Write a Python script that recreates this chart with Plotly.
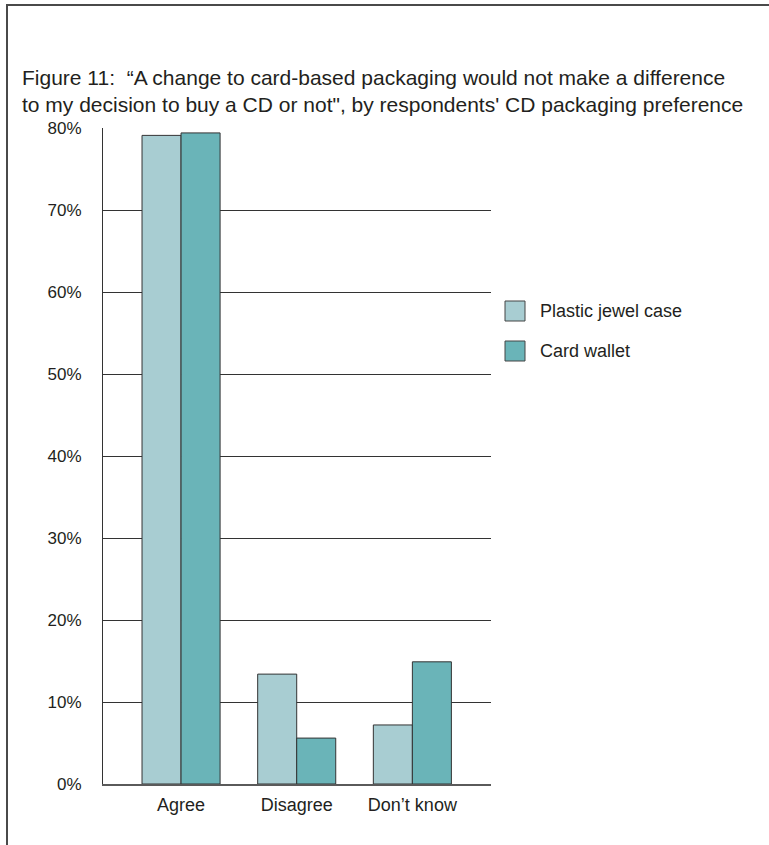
import plotly.graph_objects as go

# Survey responses by preferred CD packaging
categories = ["Agree", "Disagree", "Don\u2019t know"]
series_names = ["Plastic jewel case", "Card wallet"]
jewel_case = [79.1, 13.4, 7.2]
card_wallet = [79.4, 5.6, 14.9]
y_ticks = [0, 10, 20, 30, 40, 50, 60, 70, 80]
y_tick_labels = [f"{v}%" for v in y_ticks]

title_text = ("Figure 11:  \u201cA change to card-based packaging would not make a difference<br>"
              "to my decision to buy a CD or not\", by respondents' CD packaging preference")

W, H = 769, 845
M_L, M_R, M_T, M_B = 103, 278, 128, 61
PW, PH = W - M_L - M_R, H - M_T - M_B

colors = ["#a8cdd2", "#6ab4b8"]
FONT = "Liberation Sans, Arial, sans-serif"
TXT = "#231f20"


def px_x(px):
    return (px - M_L) / PW


def px_y(py):
    return (H - M_B - py) / PH


fig = go.Figure()
for name, vals, col in zip(series_names, [jewel_case, card_wallet], colors):
    fig.add_trace(go.Bar(
        x=categories, y=vals, name=name,
        marker=dict(color=col, line=dict(color="#333333", width=1)),
        showlegend=False,
    ))

shapes = [
    # outer frame: left and top rules
    dict(type="line", xref="paper", yref="paper",
         x0=px_x(7), x1=px_x(7), y0=px_y(5), y1=px_y(H + 2),
         line=dict(color="#4a4a4a", width=2)),
    dict(type="line", xref="paper", yref="paper",
         x0=px_x(6), x1=px_x(W + 2), y0=px_y(5), y1=px_y(5),
         line=dict(color="#4a4a4a", width=2)),
]
annotations = [
    dict(text=title_text, xref="paper", yref="paper",
         x=px_x(20), y=px_y(90.5), xanchor="left", yanchor="middle",
         align="left", showarrow=False,
         font=dict(family=FONT, size=21, color=TXT)),
]

# legend swatches and labels
for i, (name, col) in enumerate(zip(series_names, colors)):
    top = 301 + 40 * i
    shapes.append(dict(type="rect", xref="paper", yref="paper",
                       x0=px_x(505), x1=px_x(525), y0=px_y(top), y1=px_y(top + 20),
                       fillcolor=col, line=dict(color="#444444", width=1)))
    annotations.append(dict(text=name, xref="paper", yref="paper",
                            x=px_x(538), y=px_y(top + 10), xanchor="left", yanchor="middle",
                            showarrow=False,
                            font=dict(family=FONT, size=18, color=TXT)))

fig.update_layout(
    width=W, height=H,
    margin=dict(l=M_L, r=M_R, t=M_T, b=M_B),
    paper_bgcolor="white", plot_bgcolor="white",
    barmode="group", bargap=0.325, bargroupgap=0,
    font=dict(family=FONT, size=18, color=TXT),
    shapes=shapes, annotations=annotations,
    showlegend=False,
)
fig.update_xaxes(
    range=[-0.675, 2.68], showgrid=False, zeroline=False,
    showline=True, linecolor="#5a5a5a", linewidth=2,
    ticks="", ticklabelstandoff=3,
    tickfont=dict(family=FONT, size=18, color=TXT),
)
fig.update_yaxes(
    range=[0, 80], tickvals=y_ticks, ticktext=y_tick_labels,
    showgrid=True, gridcolor="#333333", gridwidth=1,
    zeroline=False, showline=True, linecolor="#333333", linewidth=1,
    ticks="", ticklabelstandoff=17,
    tickfont=dict(family=FONT, size=17, color=TXT),
)

fig.write_html("out.html")
